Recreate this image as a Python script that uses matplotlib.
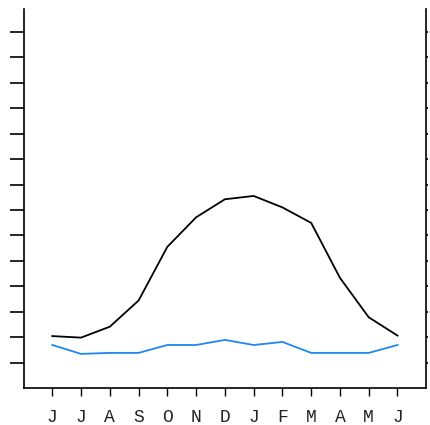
import matplotlib
matplotlib.use('Agg')
import matplotlib.pyplot as plt
import numpy as np

months = ['J', 'J', 'A', 'S', 'O', 'N', 'D', 'J', 'F', 'M', 'A', 'M', 'J']
black_vals = [2.04, 1.98, 2.41, 3.44, 5.55, 6.71, 7.42, 7.55, 7.10, 6.49, 4.33, 2.78, 2.06]
blue_vals = [1.69, 1.34, 1.38, 1.38, 1.69, 1.69, 1.89, 1.69, 1.81, 1.38, 1.38, 1.38, 1.69]
yticks = list(range(1, 15))

fig = plt.figure(figsize=(4.3, 4.25), dpi=100)
ax = fig.add_axes([0.0547, 0.0871, 0.9366, 0.8929])

x = np.arange(len(months))
ax.plot(x, black_vals, color='black', lw=1.3)
ax.plot(x, blue_vals, color='#1e87f0', lw=1.3)

ax.set_xlim(-1, 13)
ax.set_ylim(0, 14.92)
ax.set_xticks(x)
ax.set_xticklabels(months, fontfamily='Liberation Mono', fontsize=13, color='#222222')
ax.set_yticks(yticks)
ax.set_yticklabels([])

ax.spines['top'].set_visible(False)
for s in ['left', 'right', 'bottom']:
    ax.spines[s].set_linewidth(1.2)

ax.tick_params(axis='x', direction='out', length=6, width=1, pad=9)
ax.tick_params(axis='y', direction='out', length=10, width=1.2, right=False)

# tiny ticks on the right side
ax2 = ax.twinx()
ax2.set_ylim(ax.get_ylim())
ax2.set_yticks(yticks)
ax2.set_yticklabels([])
ax2.tick_params(axis='y', direction='out', length=1.5, width=1.2)
for s in ax2.spines.values():
    s.set_visible(False)

fig.savefig('out.png', dpi=100)
